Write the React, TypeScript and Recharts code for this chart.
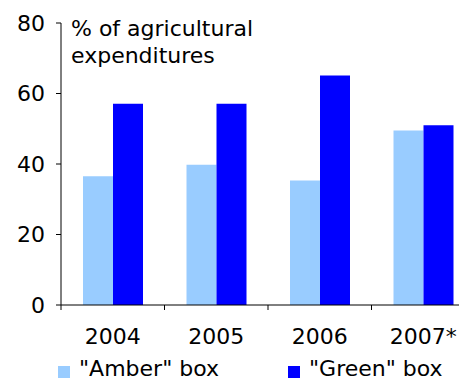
import { Bar, BarChart, XAxis, YAxis } from "recharts";

const years = ["2004", "2005", "2006", "2007*"];
const amberBox = [36.5, 39.8, 35.3, 49.5];
const greenBox = [57.1, 57.1, 65.1, 51.0];
const yTicks = [0, 20, 40, 60, 80];

const AMBER = "#99CCFF";
const GREEN = "#0000FF";
const FONT = "'DejaVu Sans', Verdana, sans-serif";

const CHART_W = 467;
const CHART_H = 372;
const Y_AXIS_W = 53;
const BAND = (CHART_W - Y_AXIS_W) / years.length;

const data = years.map((year, i) => ({
    year,
    amber: amberBox[i],
    green: greenBox[i],
}));

// category label in the middle, tick mark on the left band edge
function YearTick(props: any) {
    const { x, y, payload } = props;
    return (
        <g>
            <line x1={x - BAND / 2} y1={y} x2={x - BAND / 2} y2={y + 5} stroke="#000" />
            <text
                x={x}
                y={y + 23}
                dy="0.71em"
                textAnchor="middle"
                fill="#000"
                fontSize={22}
                fontFamily={FONT}
            >
                {payload.value}
            </text>
        </g>
    );
}

export default function App() {
    return (
        <div
            style={{
                position: "relative",
                width: 459,
                height: CHART_H,
                overflow: "hidden",
                fontFamily: FONT,
            }}
        >
            <BarChart
                width={CHART_W}
                height={CHART_H}
                data={data}
                margin={{ top: 15, right: 0, left: 0, bottom: 45 }}
                barGap={0}
            >
                <XAxis
                    dataKey="year"
                    height={30}
                    tickLine={false}
                    tickSize={0}
                    tickMargin={0}
                    axisLine={{ stroke: "#000" }}
                    tick={<YearTick />}
                    interval={0}
                />
                <YAxis
                    width={Y_AXIS_W}
                    domain={[0, 80]}
                    ticks={yTicks}
                    interval={0}
                    tickSize={5}
                    tickMargin={11}
                    axisLine={{ stroke: "#000" }}
                    tickLine={{ stroke: "#000" }}
                    tick={{ fill: "#000", fontSize: 22, fontFamily: FONT }}
                />
                <Bar dataKey="amber" fill={AMBER} barSize={30} isAnimationActive={false} />
                <Bar dataKey="green" fill={GREEN} barSize={30} isAnimationActive={false} />
            </BarChart>
            <div
                style={{
                    position: "absolute",
                    left: 63,
                    top: 7,
                    fontSize: 22,
                    lineHeight: "27px",
                    color: "#000",
                }}
            >
                % of agricultural
                <br />
                expenditures
            </div>
            <div
                style={{
                    position: "absolute",
                    top: 350,
                    left: 0,
                    width: 459,
                    height: 22,
                    fontSize: 22,
                    color: "#000",
                }}
            >
                {[
                    { label: '"Amber" box', color: AMBER, x: 50 },
                    { label: '"Green" box', color: GREEN, x: 280 },
                ].map(item => (
                    <div
                        key={item.label}
                        style={{ position: "absolute", left: item.x, top: 0, whiteSpace: "nowrap" }}
                    >
                        <span
                            style={{
                                position: "absolute",
                                left: 0,
                                top: 8,
                                width: 12,
                                height: 12,
                                background: item.color,
                            }}
                        />
                        <span style={{ position: "absolute", left: 21, top: 1, lineHeight: "20px" }}>
                            {item.label}
                        </span>
                    </div>
                ))}
            </div>
        </div>
    );
}
